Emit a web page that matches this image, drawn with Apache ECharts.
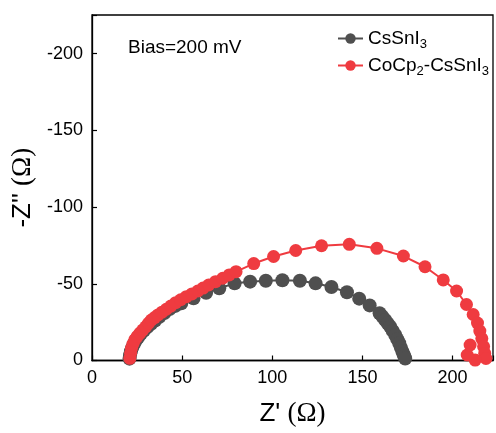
<!DOCTYPE html>
<html><head><meta charset="utf-8">
<script src="https://cdn.jsdelivr.net/npm/echarts@6/dist/echarts.min.js"></script>
<style>html,body{margin:0;padding:0;background:#fff}#c{width:496px;height:433px}</style>
</head><body><div id="c"></div>
<script>
// Z' (Ω) and Z'' (Ω, as plotted: negative values)
const csX = [20.8,21.1,21.6,22.3,23.2,24.3,25.6,27.1,28.8,30.7,32.8,35.0,37.4,40.1,43.0,46.2,49.5,56.3,63.3,70.6,79.1,87.7,96.4,105.6,115.3,124.0,132.8,141.4,148.2,154.0,159.5,161.1,162.6,164.0,165.4,166.8,168.2,169.3,170.4,171.3,172.2,172.8,173.3,173.7];
const csY = [-1.2,-3.5,-6.0,-8.4,-10.8,-13.0,-15.2,-17.4,-19.6,-21.8,-23.9,-26.1,-28.5,-31.0,-33.6,-35.6,-37.3,-40.5,-44.2,-47.1,-50.3,-51.4,-52.0,-52.3,-52.0,-50.3,-47.9,-44.5,-40.3,-35.9,-30.8,-28.6,-26.4,-24.2,-22.0,-19.3,-16.6,-13.9,-11.2,-8.4,-5.7,-4.0,-2.5,-1.3];
const coX = [21.0,21.4,21.9,22.7,23.7,25.0,26.5,28.1,29.8,31.3,32.9,34.7,36.6,38.8,41.2,43.7,46.4,49.2,52.3,55.4,58.7,61.6,64.7,68.5,72.5,76.1,79.9,89.7,100.7,113.0,127.3,142.7,158.0,172.7,184.7,194.8,202.2,207.7,211.4,213.8,215.1,216.2,217.2,217.8,218.5,212.5,208.1,209.7];
const coY = [-1.4,-4.7,-8.0,-10.7,-13.4,-15.6,-17.7,-19.8,-22.0,-24.2,-26.4,-28.0,-29.7,-31.5,-33.4,-35.5,-37.7,-39.6,-41.6,-43.4,-45.3,-47.2,-49.2,-51.4,-53.6,-55.8,-57.9,-63.2,-67.8,-71.7,-74.8,-75.7,-73.1,-68.1,-61.1,-52.5,-45.3,-36.5,-30.0,-24.4,-19.2,-14.3,-9.1,-4.6,-1.3,-0.3,-3.6,-10.1];
const xTicks = [0,50,100,150,200];
const yTicks = [0,-50,-100,-150,-200];

const pairs = (xs, ys) => xs.map((x, i) => [x, -ys[i]]);
const chart = echarts.init(document.getElementById('c'), null, {renderer:'canvas'});
const FONT = 'Liberation Sans, Arial, sans-serif';
const SERIF = 'Liberation Serif, Times New Roman, serif';
chart.setOption({
  animation: false,
  grid: {left: 92, top: 15, right: 1, bottom: 72.5, show: true, borderColor: '#000', borderWidth: 1.3},
  xAxis: {
    type: 'value', min: 0, max: 222.4, interval: 50,
    axisLine: {lineStyle: {color: '#000', width: 1.3}},
    axisTick: {inside: true, length: 5, lineStyle: {color: '#000', width: 1.2}},
    axisLabel: {color: '#000', fontSize: 18, fontFamily: FONT, margin: 9,
      formatter: v => xTicks.includes(v) ? String(v) : ''},
    splitLine: {show: false},
    name: "{a|Z' }{b|(Ω)}", nameLocation: 'middle', nameGap: 40,
    nameTextStyle: {rich: {a: {fontSize: 26, fontFamily: FONT, color: '#000'}, b: {fontSize: 27, fontFamily: SERIF, color: '#000'}}}
  },
  yAxis: {
    type: 'value', min: 0, max: 225.2, interval: 50,
    axisLine: {lineStyle: {color: '#000', width: 1.3}},
    axisTick: {inside: true, length: 5, lineStyle: {color: '#000', width: 1.2}},
    axisLabel: {color: '#000', fontSize: 18, fontFamily: FONT, margin: 9,
      formatter: v => { const t = yTicks.find(k => -k === v); return t === undefined ? '' : String(t); }},
    splitLine: {show: false},
    name: "{a|-Z'' }{b|(Ω)}", nameLocation: 'middle', nameGap: 52, nameRotate: 90,
    nameTextStyle: {rich: {a: {fontSize: 26, fontFamily: FONT, color: '#000'}, b: {fontSize: 27, fontFamily: SERIF, color: '#000'}}}
  },
  legend: {
    left: 332, top: 24, orient: 'vertical', itemWidth: 25, itemHeight: 13, itemGap: 5,
    textStyle: {fontSize: 19, fontFamily: FONT, color: '#000', padding: [0,0,0,0],
      rich: {s: {fontSize: 13, fontFamily: FONT, color: '#000', verticalAlign: 'bottom', padding: [12,0,0,0]}}},
    formatter: n => n === 'CsSnI3' ? 'CsSnI{s|3}' : 'CoCp{s|2}-CsSnI{s|3}',
    data: ['CsSnI3', 'CoCp2-CsSnI3']
  },
  graphic: [{type: 'text', left: 128, top: 38, style: {text: 'Bias=200 mV', fontSize: 19, fontFamily: FONT, fill: '#000'}}],
  series: [
    {name: 'CsSnI3', type: 'line', data: pairs(csX, csY), symbol: 'circle', symbolSize: 14,
     itemStyle: {color: '#4f4f4f'}, lineStyle: {color: '#4f4f4f', width: 2}},
    {name: 'CoCp2-CsSnI3', type: 'line', data: pairs(coX, coY), symbol: 'circle', symbolSize: 13,
     itemStyle: {color: '#ef3b40'}, lineStyle: {color: '#ef3b40', width: 2}}
  ]
});
</script></body></html>
